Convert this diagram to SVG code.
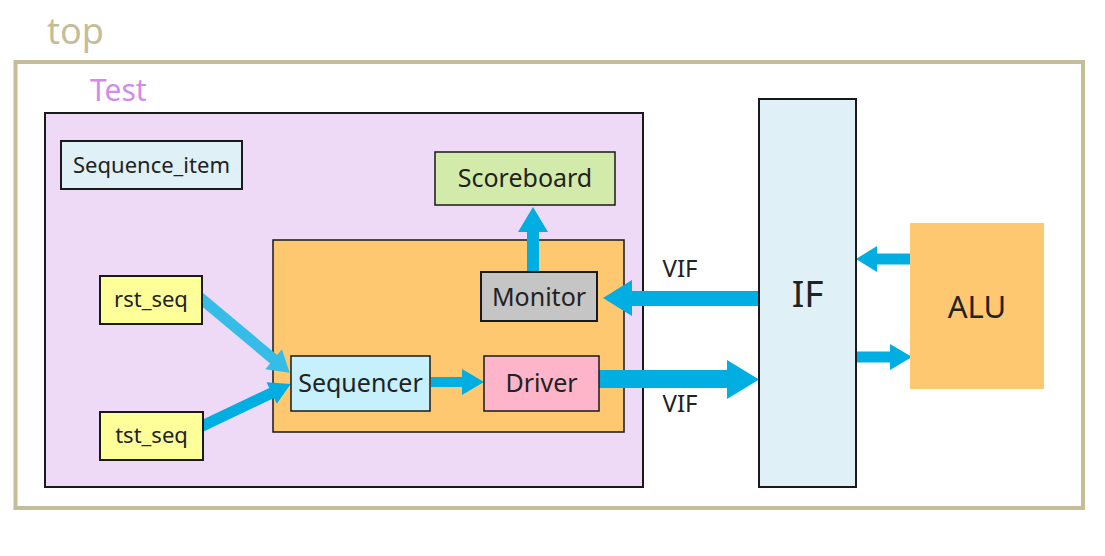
<svg xmlns="http://www.w3.org/2000/svg" width="1105" height="556" viewBox="0 0 1105 556">
<style>
.t{font-family:"Noto Sans","Open Sans","DejaVu Sans",sans-serif;fill:#222;text-anchor:middle}
.box{stroke:#1a1a1a;stroke-width:2}
.arr{fill:#00aee1}
.arr2{fill:#35bde8}
</style>
<rect width="1105" height="556" fill="#fff"/>
<g id="top">
<rect x="15.5" y="62" width="1067.5" height="446" fill="#fff" stroke="#c5bd98" stroke-width="4"/>
<text x="47" y="44" font-family="Noto Sans,Open Sans,sans-serif" font-size="36" fill="#c5bd98">top</text>
</g>
<g id="test">
<rect x="45" y="113" width="598" height="374" fill="#eed9f6" class="box"/>
<text x="90" y="101" font-family="Noto Sans,Open Sans,sans-serif" font-size="30" fill="#d08ce8">Test</text>
</g>
<g id="agent">
<rect x="273" y="240" width="351" height="192" fill="#fec870" stroke="#1a1a1a" stroke-width="1.5"/>
</g>
<g id="connectors">
<path class="arr" d="M527,272 L527,232 L518,232 L533,207 L548,232 L539,232 L539,272 Z"/>
<path class="arr" d="M759,291 L632,291 L632,280 L603,298 L632,316 L632,306 L759,306 Z"/>
<path class="arr" d="M599,370 L727,370 L727,360 L759,379.5 L727,399 L727,388 L599,388 Z"/>
<path class="arr" d="M431,377 L462,377 L462,369 L484,382 L462,395 L462,387 L431,387 Z"/>
<path class="arr" d="M910,253.5 L877,253.5 L877,246 L856,259 L877,272 L877,264.5 L910,264.5 Z"/>
<path class="arr" d="M856,351.5 L890,351.5 L890,344 L912,357 L890,370 L890,362.5 L856,362.5 Z"/>
<path class="arr2" d="M192.5,298.4 L270.1,363.4 L265.3,369.2 L289.7,372.7 L281.9,349.2 L277.1,355 L199.5,290 Z"/>
<path class="arr" d="M200.4,433.1 L274.1,398 L276.8,403.8 L290.7,384 L266.6,382.2 L269.3,388 L195.6,423.1 Z"/>
<text class="t" x="680" y="277" font-size="24">VIF</text>
<text class="t" x="680" y="412" font-size="24">VIF</text>
</g>
<g id="sequence_item">
<rect x="61" y="141" width="181" height="48" fill="#dff0f6" class="box"/>
<text class="t" x="151.5" y="173" font-size="22">Sequence_item</text>
</g>
<g id="rst_seq">
<rect x="100" y="276" width="102" height="48" fill="#ffff99" class="box"/>
<text class="t" x="151" y="307" font-size="22">rst_seq</text>
</g>
<g id="tst_seq">
<rect x="100" y="412" width="103" height="48" fill="#ffff99" class="box"/>
<text class="t" x="151.5" y="443" font-size="22">tst_seq</text>
</g>
<g id="scoreboard">
<rect x="435" y="152" width="180" height="53" fill="#d3ebaa" stroke="#1a1a1a" stroke-width="1.5"/>
<text class="t" x="525" y="187" font-size="25">Scoreboard</text>
</g>
<g id="monitor">
<rect x="481" y="272" width="116" height="49" fill="#c5c5c5" class="box"/>
<text class="t" x="539" y="306" font-size="25">Monitor</text>
</g>
<g id="sequencer">
<rect x="291" y="356" width="139" height="55" fill="#c5f0fc" stroke="#1a1a1a" stroke-width="1.5"/>
<text class="t" x="360.5" y="392" font-size="25">Sequencer</text>
</g>
<g id="driver">
<rect x="484" y="356" width="115" height="55" fill="#feb5c9" stroke="#1a1a1a" stroke-width="1.5"/>
<text class="t" x="541.5" y="392" font-size="25">Driver</text>
</g>
<g id="if">
<rect x="759" y="99" width="97" height="388" fill="#dff0f6" class="box"/>
<text class="t" x="807.5" y="307" font-size="37">IF</text>
</g>
<g id="alu">
<rect x="910" y="223" width="134" height="166" fill="#fec870"/>
<text class="t" x="977" y="318" font-size="31">ALU</text>
</g>
</svg>
